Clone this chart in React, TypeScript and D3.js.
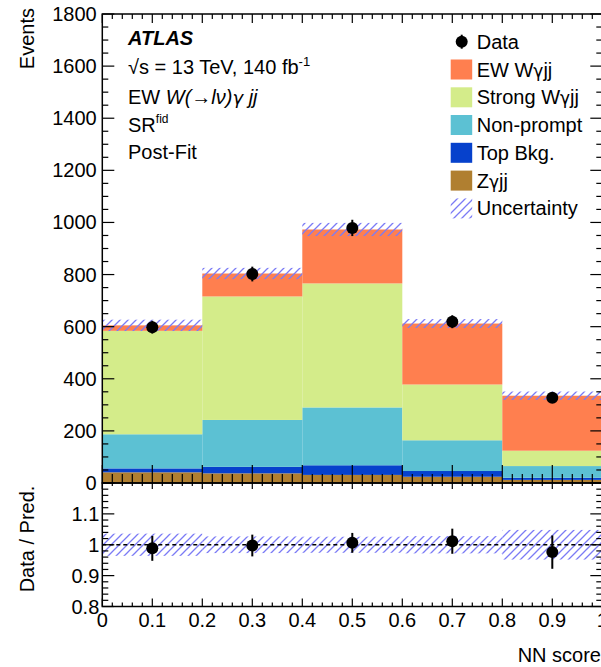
import { useEffect, useRef } from "react";
import * as d3 from "d3";

// bin edges of the NN score histogram
const binEdges = [0, 0.2, 0.4, 0.6, 0.8, 1.0];

// post-fit yields per bin (stack order: bottom -> top)
const zgjj = [41, 37, 31, 24, 12];
const topBkg = [15, 25, 37, 22, 8];
const nonPrompt = [131, 180, 222, 118, 45];
const strongWgjj = [397, 474, 476, 214, 59];
const ewWgjj = [21, 88, 207, 234, 211];

const dataCounts = [598, 802, 979, 619, 327];
// relative total uncertainty of the prediction
const relUnc = [0.036, 0.027, 0.026, 0.028, 0.048];

const xTickLabels = ["0", "0.1", "0.2", "0.3", "0.4", "0.5", "0.6", "0.7", "0.8", "0.9", "1"];
const yTickValues = [0, 200, 400, 600, 800, 1000, 1200, 1400, 1600, 1800];
const ratioTickValues = [0.8, 0.9, 1, 1.1];

// legend names are split around the greek gamma so it can use a symbol-ish font
const samples = [
  { name: ["Z", "γ", "jj"], values: zgjj, color: "#b07f30" },
  { name: ["Top Bkg."], values: topBkg, color: "#0641cc" },
  { name: ["Non-prompt"], values: nonPrompt, color: "#5cc1d3" },
  { name: ["Strong W", "γ", "jj"], values: strongWgjj, color: "#d4ec8a" },
  { name: ["EW W", "γ", "jj"], values: ewWgjj, color: "#ff7f4f" },
];

const FONT = "'Liberation Sans', Arial, Helvetica, sans-serif";
const GREEK = "'DejaVu Sans', sans-serif";
const HATCH = "#7b7bf5";

const App = () => {
  const svgRef = useRef<SVGSVGElement>(null);

  useEffect(() => {
    const svg = d3.select(svgRef.current);
    svg.selectAll("*").remove();

    const left = 102.3;
    const right = 602.3;
    const mainTop = 14;
    const mainBottom = 483;
    const ratioBottom = 606.5;

    const x = d3.scaleLinear().domain([0, 1]).range([left, right]);
    const y = d3.scaleLinear().domain([0, 1800]).range([mainBottom, mainTop]);
    const yr = d3.scaleLinear().domain([0.8, 1.2]).range([ratioBottom, mainBottom]);

    const defs = svg.append("defs");
    const pat = defs
      .append("pattern")
      .attr("id", "hatch")
      .attr("patternUnits", "userSpaceOnUse")
      .attr("width", 8)
      .attr("height", 8);
    pat
      .append("path")
      .attr("d", "M-2,2 l4,-4 M0,8 l8,-8 M6,10 l4,-4")
      .attr("stroke", HATCH)
      .attr("stroke-width", 1.3);

    const g = svg.append("g").style("font-family", FONT);

    // stacked histogram
    const nBins = dataCounts.length;
    const bins = d3.range(nBins);
    const cum = bins.map(() => 0);
    const totals = bins.map((i) => d3.sum(samples, (s) => s.values[i]));

    samples.forEach((s) => {
      bins.forEach((i) => {
        const y0 = cum[i];
        const y1 = y0 + s.values[i];
        cum[i] = y1;
        g.append("rect")
          .attr("x", x(binEdges[i]))
          .attr("width", x(binEdges[i + 1]) - x(binEdges[i]))
          .attr("y", y(y1))
          .attr("height", y(y0) - y(y1))
          .attr("fill", s.color);
      });
    });

    // uncertainty band on the stack
    bins.forEach((i) => {
      const hi = totals[i] * (1 + relUnc[i]);
      const lo = totals[i] * (1 - relUnc[i]);
      g.append("rect")
        .attr("x", x(binEdges[i]))
        .attr("width", x(binEdges[i + 1]) - x(binEdges[i]))
        .attr("y", y(hi))
        .attr("height", y(lo) - y(hi))
        .attr("fill", "url(#hatch)");
    });

    // data points
    const centers = bins.map((i) => (binEdges[i] + binEdges[i + 1]) / 2);
    bins.forEach((i) => {
      const n = dataCounts[i];
      const e = Math.sqrt(n);
      g.append("line")
        .attr("x1", x(centers[i]))
        .attr("x2", x(centers[i]))
        .attr("y1", y(n - e))
        .attr("y2", y(n + e))
        .attr("stroke", "black")
        .attr("stroke-width", 2);
      g.append("circle")
        .attr("cx", x(centers[i]))
        .attr("cy", y(n))
        .attr("r", 6)
        .attr("fill", "black");
    });

    // ratio panel band + line
    bins.forEach((i) => {
      g.append("rect")
        .attr("x", x(binEdges[i]))
        .attr("width", x(binEdges[i + 1]) - x(binEdges[i]))
        .attr("y", yr(1 + relUnc[i]))
        .attr("height", yr(1 - relUnc[i]) - yr(1 + relUnc[i]))
        .attr("fill", "url(#hatch)");
    });
    g.append("line")
      .attr("x1", x(0))
      .attr("x2", x(1))
      .attr("y1", yr(1))
      .attr("y2", yr(1))
      .attr("stroke", "black")
      .attr("stroke-width", 1.5)
      .attr("stroke-dasharray", "4,3");

    bins.forEach((i) => {
      const r = dataCounts[i] / totals[i];
      const e = Math.sqrt(dataCounts[i]) / totals[i];
      g.append("line")
        .attr("x1", x(centers[i]))
        .attr("x2", x(centers[i]))
        .attr("y1", yr(r - e))
        .attr("y2", yr(r + e))
        .attr("stroke", "black")
        .attr("stroke-width", 2);
      g.append("circle")
        .attr("cx", x(centers[i]))
        .attr("cy", yr(r))
        .attr("r", 6)
        .attr("fill", "black");
    });

    // frames
    [
      [mainTop, mainBottom],
      [mainBottom, ratioBottom],
    ].forEach(([t, b]) => {
      g.append("rect")
        .attr("x", left)
        .attr("y", t)
        .attr("width", right - left)
        .attr("height", b - t)
        .attr("fill", "none")
        .attr("stroke", "black")
        .attr("stroke-width", 1.5);
    });

    // ticks
    const tick = (x1: number, y1: number, x2: number, y2: number) =>
      g.append("line")
        .attr("x1", x1)
        .attr("y1", y1)
        .attr("x2", x2)
        .attr("y2", y2)
        .attr("stroke", "black")
        .attr("stroke-width", 1.2);

    d3.range(0, 51).forEach((k) => {
      const xv = x(k * 0.02);
      const major = k % 5 === 0;
      // main panel
      tick(xv, mainBottom, xv, mainBottom - (major ? 18 : 9));
      tick(xv, mainTop, xv, mainTop + (major ? 9 : 5));
      // ratio panel
      tick(xv, ratioBottom, xv, ratioBottom - (major ? 8 : 4));
      tick(xv, mainBottom, xv, mainBottom + (major ? 6 : 3));
    });

    d3.range(0, 37).forEach((k) => {
      const yv = y(k * 50);
      const major = k % 4 === 0;
      const len = major ? 12 : 6;
      tick(left, yv, left + len, yv);
      tick(right, yv, right - len, yv);
    });

    d3.range(0, 21).forEach((k) => {
      const yv = yr(0.8 + k * 0.02);
      const major = k % 5 === 0;
      const len = major ? 12 : 6;
      tick(left, yv, left + len, yv);
      tick(right, yv, right - len, yv);
    });

    // tick labels
    yTickValues.forEach((v) => {
      g.append("text")
        .attr("x", 96.7)
        .attr("y", y(v) + 7)
        .attr("text-anchor", "end")
        .style("font-size", "20px")
        .text(String(v));
    });
    ratioTickValues.forEach((v) => {
      g.append("text")
        .attr("x", 99.3)
        .attr("y", yr(v) + 7)
        .attr("text-anchor", "end")
        .style("font-size", "20px")
        .text(String(v));
    });
    xTickLabels.forEach((t, i) => {
      g.append("text")
        .attr("x", x(i * 0.1))
        .attr("y", 627)
        .attr("text-anchor", "middle")
        .style("font-size", "20px")
        .text(t);
    });

    // axis titles
    g.append("text")
      .attr("transform", "translate(34,8) rotate(-90)")
      .attr("text-anchor", "end")
      .style("font-size", "20px")
      .text("Events");
    g.append("text")
      .attr("transform", "translate(34,539) rotate(-90)")
      .attr("text-anchor", "middle")
      .style("font-size", "20px")
      .text("Data / Pred.");
    g.append("text")
      .attr("x", 601)
      .attr("y", 661.5)
      .attr("text-anchor", "end")
      .style("font-size", "20px")
      .text("NN score");

    // ATLAS labels
    const tx = 128;
    g.append("text")
      .attr("x", tx)
      .attr("y", 45)
      .style("font-size", "20px")
      .style("font-weight", "bold")
      .style("font-style", "italic")
      .text("ATLAS");

    const lumi = g.append("text").attr("x", tx).attr("y", 74).style("font-size", "20px");
    lumi.append("tspan").text("√s = 13 TeV, 140 fb");
    lumi.append("tspan").attr("dy", -8).style("font-size", "13px").text("-1");

    const proc = g.append("text").attr("x", tx).attr("y", 103.5).style("font-size", "20px");
    proc.append("tspan").text("EW ");
    proc.append("tspan").style("font-style", "italic").text("W(→lν)");
    proc
      .append("tspan")
      .style("font-style", "italic")
      .style("font-family", GREEK)
      .style("font-size", "18px")
      .text("γ");
    proc.append("tspan").style("font-style", "italic").text(" jj");

    const sr = g.append("text").attr("x", tx).attr("y", 131.5).style("font-size", "20px");
    sr.append("tspan").text("SR");
    sr.append("tspan").attr("dy", -9).style("font-size", "12px").text("fid");

    g.append("text")
      .attr("x", tx)
      .attr("y", 159)
      .style("font-size", "20px")
      .text("Post-Fit");

    // legend
    const lx = 450.7;
    const textX = 476.7;
    const rowY = [41.7, 69.5, 97.3, 125, 152.8, 180.6, 208.4];
    const legendText = (yy: number, parts: string[]) => {
      const t = g.append("text")
        .attr("x", textX)
        .attr("y", yy + 7)
        .style("font-size", "20px");
      parts.forEach((p) => {
        const sp = t.append("tspan").text(p);
        if (p === "γ") sp.style("font-family", GREEK).style("font-size", "17px");
      });
      return t;
    };

    g.append("line")
      .attr("x1", lx + 11)
      .attr("x2", lx + 11)
      .attr("y1", rowY[0] - 7)
      .attr("y2", rowY[0] + 7)
      .attr("stroke", "black")
      .attr("stroke-width", 2);
    g.append("circle").attr("cx", lx + 11).attr("cy", rowY[0]).attr("r", 6).attr("fill", "black");
    legendText(rowY[0], ["Data"]);

    [...samples].reverse().forEach((s, i) => {
      const yy = rowY[i + 1];
      g.append("rect")
        .attr("x", lx)
        .attr("y", yy - 10)
        .attr("width", 21.5)
        .attr("height", 20)
        .attr("fill", s.color);
      legendText(yy, s.name);
    });

    g.append("rect")
      .attr("x", lx)
      .attr("y", rowY[6] - 10)
      .attr("width", 21.5)
      .attr("height", 20)
      .attr("fill", "url(#hatch)");
    legendText(rowY[6], ["Uncertainty"]);
  }, []);

  return (
    <div style={{ position: "absolute", left: 0, top: 0 }}>
      <svg ref={svgRef} width="601" height="667" style={{ display: "block", background: "white" }} />
    </div>
  );
};

export default App;
